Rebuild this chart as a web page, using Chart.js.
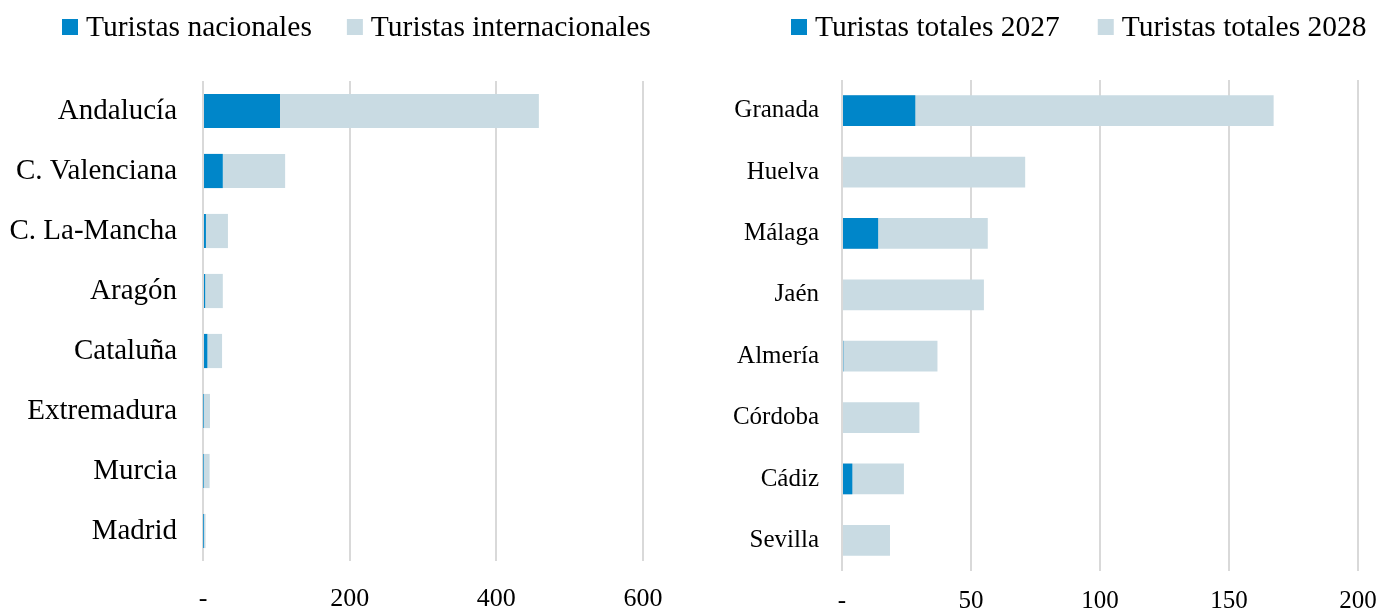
<!DOCTYPE html>
<html lang="es">
<head>
<meta charset="utf-8">
<script src="https://cdn.jsdelivr.net/npm/chart.js@4.4.1/dist/chart.umd.min.js"></script>
<style>
    html, body { margin: 0; padding: 0; background: #fff; }
    .box { position: absolute; top: 0; height: 610px; }
    #leftBox { left: 0; width: 700px; }
    #rightBox { left: 700px; width: 693px; }
</style>
</head>
<body>
<div class="box" id="leftBox"><canvas id="regionChart"></canvas></div>
<div class="box" id="rightBox"><canvas id="provinceChart"></canvas></div>
<script>
// Comunidades (miles de turistas)
const regions = ['Andalucía', 'C. Valenciana', 'C. La-Mancha', 'Aragón', 'Cataluña', 'Extremadura', 'Murcia', 'Madrid'];
const nacionales = [105, 27, 4, 3, 6, 0.5, 0.5, 0.3];
const internacionales = [353, 85, 30, 24, 20, 9, 8.5, 3.2];
const regionTicks = [0, 200, 400, 600];

// Provincias andaluzas
const provinces = ['Granada', 'Huelva', 'Málaga', 'Jaén', 'Almería', 'Córdoba', 'Cádiz', 'Sevilla'];
const totales2027 = [28.4, 0, 14, 0, 0.5, 0, 4, 0];
const totales2028 = [167.3, 71, 56.5, 55, 37, 30, 24, 18.6];
const provinceTicks = [0, 50, 100, 150, 200];

const DARK = '#0086C9';
const LIGHT = '#C9DBE3';
const GRID = '#D9D9D9';

Chart.defaults.font.family = "'Liberation Serif', 'Times New Roman', serif";
Chart.defaults.color = '#000';

function tickLabel(value) {
    return value === 0 ? '-' : value;
}

// leyenda en una sola línea, con los huecos del original
const topLegend = {
    id: 'topLegend',
    afterDraw(chart, args, opts) {
        const ctx = chart.ctx;
        ctx.save();
        ctx.font = opts.fontSize + 'px ' + Chart.defaults.font.family;
        ctx.textBaseline = 'middle';
        let x = opts.x;
        chart.data.datasets.forEach(ds => {
            ctx.fillStyle = ds.backgroundColor;
            ctx.fillRect(x, opts.y - 8, 16, 16);
            x += 16 + 8;
            ctx.fillStyle = '#000';
            ctx.fillText(ds.label, x, opts.y + 1);
            x += ctx.measureText(ds.label).width + opts.gap;
        });
        ctx.restore();
    }
};

new Chart(document.getElementById('regionChart'), {
    type: 'bar',
    data: {
        labels: regions,
        datasets: [
            { label: 'Turistas nacionales', data: nacionales, backgroundColor: DARK },
            { label: 'Turistas internacionales', data: internacionales, backgroundColor: LIGHT }
        ]
    },
    options: {
        indexAxis: 'y',
        responsive: true, maintainAspectRatio: false,
        animation: false,
        layout: { padding: { top: 81, left: 0, right: 57, bottom: 0 } },
        datasets: { bar: { categoryPercentage: 1, barPercentage: 0.57, borderWidth: 0 } },
        scales: {
            x: {
                stacked: true, min: 0, max: 600,
                afterBuildTicks: (scale) => { scale.ticks = regionTicks.map(v => ({ value: v })); },
                afterFit: (scale) => { scale.height = 49; },
                ticks: { callback: tickLabel, font: { size: 26 }, padding: 23, maxRotation: 0 },
                grid: { color: GRID, lineWidth: 2, drawTicks: false },
                border: { display: false }
            },
            y: {
                stacked: true,
                afterFit: (scale) => { scale.width = 203; },
                ticks: { font: { size: 29 }, padding: 26 },
                grid: { display: false, drawTicks: false },
                border: { display: false }
            }
        },
        plugins: {
            legend: { display: false },
            tooltip: { enabled: false },
            topLegend: { x: 62, y: 27, gap: 35, fontSize: 29.5 }
        }
    },
    plugins: [topLegend]
});

new Chart(document.getElementById('provinceChart'), {
    type: 'bar',
    data: {
        labels: provinces,
        datasets: [
            { label: 'Turistas totales 2027', data: totales2027, backgroundColor: DARK },
            { label: 'Turistas totales 2028', data: totales2028, backgroundColor: LIGHT }
        ]
    },
    options: {
        indexAxis: 'y',
        responsive: true, maintainAspectRatio: false,
        animation: false,
        layout: { padding: { top: 80, left: 0, right: 35, bottom: 0 } },
        datasets: { bar: { categoryPercentage: 1, barPercentage: 0.5, borderWidth: 0, grouped: false } },
        scales: {
            x: {
                min: 0, max: 200,
                afterBuildTicks: (scale) => { scale.ticks = provinceTicks.map(v => ({ value: v })); },
                afterFit: (scale) => { scale.height = 39; },
                ticks: { callback: tickLabel, font: { size: 25 }, padding: 15, maxRotation: 0 },
                grid: { color: GRID, lineWidth: 2, drawTicks: false },
                border: { display: false }
            },
            y: {
                afterFit: (scale) => { scale.width = 142; },
                ticks: { font: { size: 25 }, padding: 23 },
                grid: { display: false, drawTicks: false },
                border: { display: false }
            }
        },
        plugins: {
            legend: { display: false },
            tooltip: { enabled: false },
            topLegend: { x: 91, y: 27, gap: 38, fontSize: 29.5 }
        }
    },
    plugins: [topLegend]
});
</script>
</body>
</html>
